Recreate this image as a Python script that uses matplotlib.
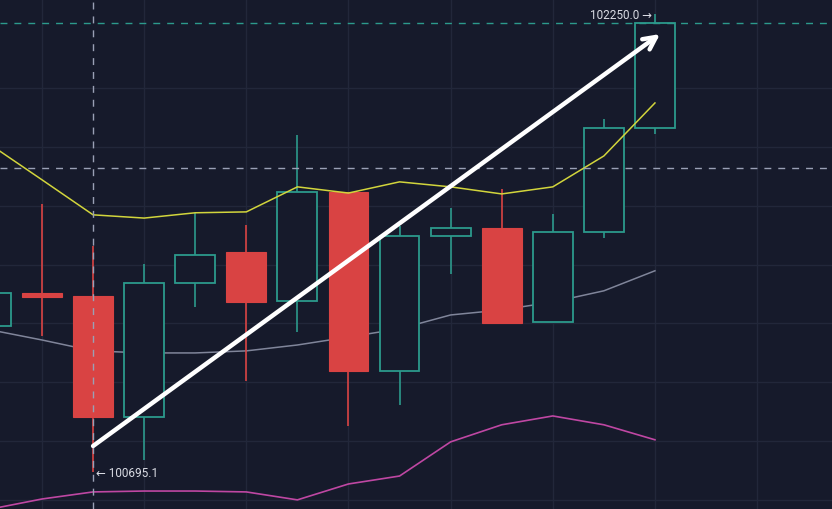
import matplotlib
matplotlib.use("Agg")
import matplotlib.pyplot as plt
from matplotlib.patches import Rectangle

# ---- data ----
idx = list(range(14))
opens  = [101192, 101304, 101294, 100883, 101338, 101443, 101277, 101647, 101039, 101497, 101525, 101205, 101511, 101864]
highs  = [101320, 101606, 101463, 101402, 101576, 101535, 101840, 101647, 101531, 101592, 101657, 101572, 101895, 102250]
lows   = [101170, 101158, 100695.1, 100737, 101256, 101005, 101171, 100852, 100923, 101368, 101202, 101205, 101491, 101844]
closes = [101304, 101290, 100883, 101338, 101433, 101273, 101647, 101039, 101497, 101525, 101202, 101511, 101864, 102221]

ma_yellow = [101806, 101688, 101569, 101558, 101576, 101579, 101664, 101643, 101681, 101664, 101640, 101664, 101769, 101949]
ma_gray   = [101178, 101144, 101107, 101100, 101100, 101107, 101127, 101154, 101182, 101229, 101246, 101273, 101311, 101379]
ma_pink   = [100570, 100604, 100628, 100631, 100631, 100628, 100601, 100655, 100682, 100798, 100856, 100886, 100856, 100805]

grid_prices = [100600, 100800, 101000, 101200, 101400, 101600, 101800, 102000]
grid_x = [1, 3, 5, 7, 9, 11, 13, 15]
last_price = 102221
level_line = 101728
high_idx, high_val = 13, 102250.0
low_idx, low_val = 2, 100695.1
arrow_start = (2, 100784)
arrow_end = (13.1, 102183)

# ---- style ----
BG = "#161a2b"
GRID = "#22273a"
UP = "#2c9a8c"
DOWN = "#d94343"
TXT = "#d9dbe3"

fig = plt.figure(figsize=(8.32, 5.10), dpi=100, facecolor=BG)
ax = fig.add_axes([0, 0, 1, 1])
ax.set_facecolor(BG)
ax.set_xlim(0.178, 16.466)
ax.set_ylim(100570, 102302)
for s in ax.spines.values():
    s.set_visible(False)
ax.set_xticks([])
ax.set_yticks([])

for g in grid_prices:
    ax.axhline(g, color=GRID, lw=1, zorder=0)
for g in grid_x:
    ax.axvline(g, color=GRID, lw=1, zorder=0)

# moving-average lines
ax.plot(idx, ma_gray, color="#80859a", lw=1.1, zorder=1)
ax.plot(idx, ma_pink, color="#bf47a3", lw=1.2, zorder=1)

# candles
w = 0.78
for i, o, h, l, c in zip(idx, opens, highs, lows, closes):
    up = c >= o
    col = UP if up else DOWN
    ax.plot([i, i], [l, h], color=col, lw=1.2, zorder=2, solid_capstyle="butt")
    bottom = min(o, c)
    height = max(abs(c - o), 8)
    if up:
        ax.add_patch(Rectangle((i - w / 2, bottom), w, height, facecolor=BG,
                               edgecolor=col, lw=1.3, zorder=3))
    else:
        ax.add_patch(Rectangle((i - w / 2, bottom), w, height, facecolor=col,
                               edgecolor=col, lw=0.8, zorder=3))

ax.plot(idx, ma_yellow, color="#d2d53c", lw=1.1, zorder=4)

# dashed level lines
ax.axhline(last_price, color=UP, lw=1, ls=(0, (5, 5)), zorder=4)
ax.axhline(level_line, color="#9aa0b5", lw=1, ls=(0, (5, 5)), zorder=4)
ax.axvline(low_idx, color="#9aa0b5", lw=1, ls=(0, (5, 5)), zorder=4)

# arrow
ax.annotate("", xy=arrow_end, xytext=arrow_start,
            arrowprops=dict(arrowstyle="->,head_length=0.9,head_width=0.45",
                            color="white", lw=3.2, shrinkA=0, shrinkB=0),
            zorder=6)

# high / low labels
ax.text(high_idx - 0.06, high_val, f"{high_val:.1f} \u2192", color=TXT,
        fontsize=8.5, family=["Roboto", "DejaVu Sans"], ha="right", va="center", zorder=7)
ax.text(low_idx + 0.05, low_val, f"\u2190 {low_val:.1f}", color=TXT,
        fontsize=8.5, family=["Roboto", "DejaVu Sans"], ha="left", va="center", zorder=7)

fig.savefig("out.png", dpi=100, facecolor=BG)
